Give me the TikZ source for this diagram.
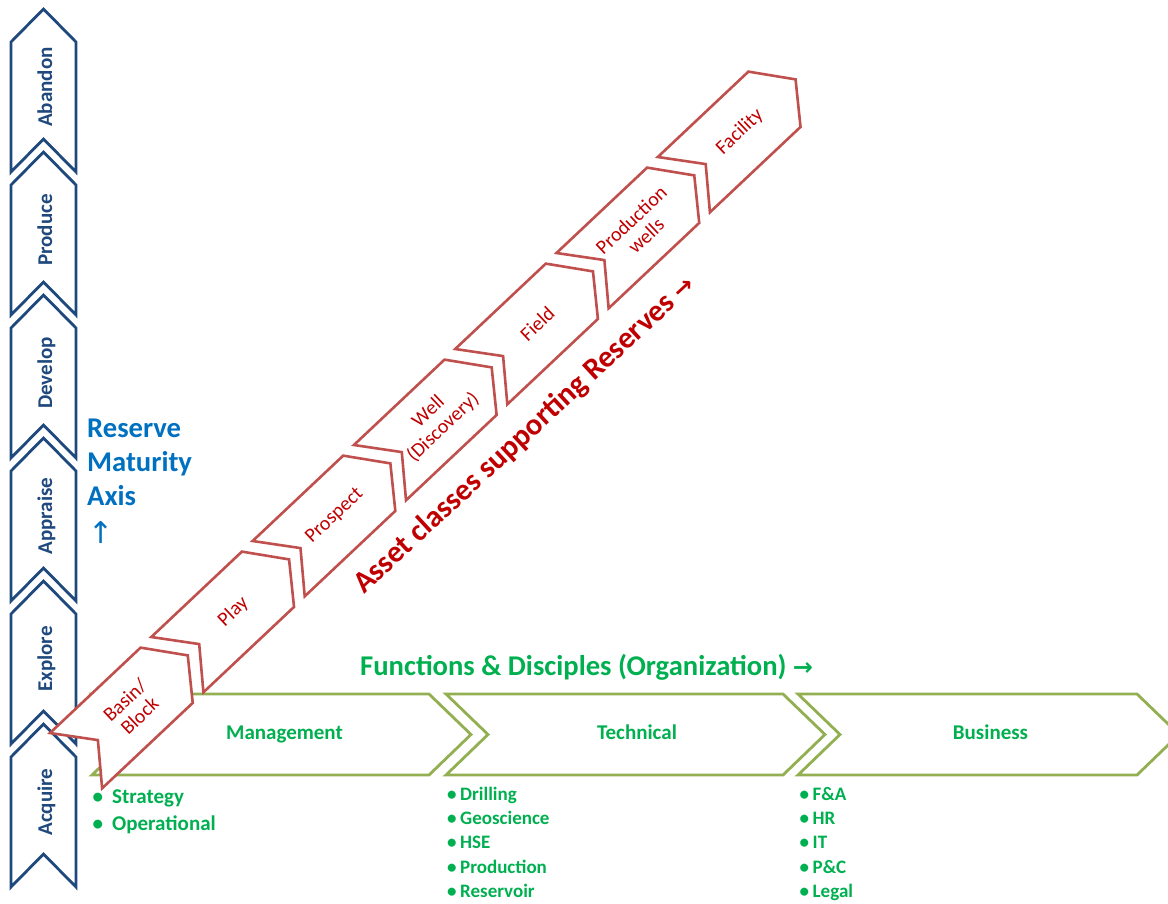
\documentclass[tikz,border=0pt]{standalone}
\usepackage{fontspec}
\setmainfont{Carlito}
\newfontfamily\arrowfont{DejaVu Sans}
\definecolor{navy}{HTML}{1F497D}
\definecolor{brick}{HTML}{C0504D}
\definecolor{deepred}{HTML}{C00000}
\definecolor{olive}{HTML}{92B052}
\definecolor{leaf}{HTML}{00B050}
\definecolor{azure}{HTML}{0070C0}
\begin{document}
\begin{tikzpicture}[x=1pt,y=-1pt,
  stage/.style={draw=navy, line width=2.8pt, fill=white},
  stagetext/.style={text=navy, inner sep=0pt, anchor=base, rotate=90,
    font=\fontsize{21}{21}\selectfont\bfseries},
  func/.style={draw=olive, line width=2.8pt, fill=white},
  functext/.style={text=leaf, inner sep=0pt, anchor=base,
    font=\fontsize{21}{21}\selectfont\bfseries},
  asset/.style={draw=brick, line width=2.6pt, fill=white},
  assettext/.style={text=deepred, align=center, inner sep=0pt, rotate=43.3,
    font=\fontsize{20}{21.5}\selectfont},
  bigitem/.style={text=leaf, inner sep=0pt, anchor=base west,
    font=\fontsize{21}{21}\selectfont\bfseries},
  smallitem/.style={text=leaf, inner sep=0pt, anchor=base west,
    font=\fontsize{19}{19}\selectfont\bfseries},
  heading/.style={inner sep=0pt, anchor=base west,
    font=\fontsize{28.6}{28.6}\selectfont\bfseries},
]
\useasboundingbox (0,0) rectangle (1168,903);

% functions & disciplines band
\draw[func] (92,694) -- (429,694) -- (471,734.5) -- (429,775) -- (92,775) -- (134,734.5) -- cycle;
\draw[func] (446,694) -- (783,694) -- (825,734.5) -- (783,775) -- (446,775) -- (488,734.5) -- cycle;
\draw[func] (798,694) -- (1137,694) -- (1179,734.5) -- (1137,775) -- (798,775) -- (840,734.5) -- cycle;
\node[functext] (mgmt) at (284.5,739.5) {Management};
\node[functext] (tech) at (637,739.5) {Technical};
\node[functext] (biz) at (990.5,739.5) {Business};

\node[heading, text=leaf] (funcs) at (360,675)
  {Functions \& Disciples (Organization) {\arrowfont\fontsize{24}{24}\selectfont →}};

% bullet lists below each function
\foreach \txt [count=\k from 0] in {Strategy, Operational}
  \node[bigitem] (mgmtitem\k) at (92.5,803+27*\k) {\makebox[19.5pt][l]{•}\txt};
\foreach \txt [count=\k from 0] in {Drilling, Geoscience, HSE, Production, Reservoir}
  \node[smallitem] (techitem\k) at (447,800.5+24.2*\k) {\makebox[13pt][l]{•}\txt};
\foreach \txt [count=\k from 0] in {F\&A, HR, IT, P\&C, Legal}
  \node[smallitem] (bizitem\k) at (799.5,800.5+24.2*\k) {\makebox[13pt][l]{•}\txt};

% reserve maturity axis (vertical chevrons)
\foreach \lbl/\t [count=\i] in {Abandon/9, Produce/152, Develop/295, Appraise/438, Explore/581, Acquire/724} {
  \draw[stage] (43.5,\t) -- (76,\t+33) -- (76,\t+163) -- (43.5,\t+130) -- (11,\t+163) -- (11,\t+33) -- cycle;
  \node[stagetext] (stage\i) at (52,\t+78) {\lbl};
}

\node[heading, text=azure] (axis1) at (87,437) {Reserve};
\node[heading, text=azure] (axis2) at (87,471.5) {Maturity};
\node[heading, text=azure] (axis3) at (87,505.5) {Axis};
\node[text=azure, inner sep=0pt, font=\fontsize{30}{30}\selectfont\arrowfont] (axisarrow) at (101,533) {↑};

% asset classes (diagonal chevrons)
\foreach \lbl [count=\i from 0] in {{Basin/\\Block}, Play, Prospect, {Well\\(Discovery)}, Field, {Production\\wells}, Facility} {
  \begin{scope}[shift={(50+101.3*\i,733-96*\i)}, rotate=43.3]
    \draw[asset] (0,0) -- (124.5,0) -- (153.5,38) -- (124.5,76) -- (0,76) -- (30,38) -- cycle;
    \node[assettext] (asset\i) at (77,38) {\lbl};
  \end{scope}
}

\node[heading, text=deepred, rotate=42.8, font=\fontsize{30.5}{30.5}\selectfont\bfseries] (assets) at (364,595)
  {Asset classes supporting Reserves {\arrowfont\fontsize{24}{24}\selectfont →}};
\end{tikzpicture}
\end{document}
